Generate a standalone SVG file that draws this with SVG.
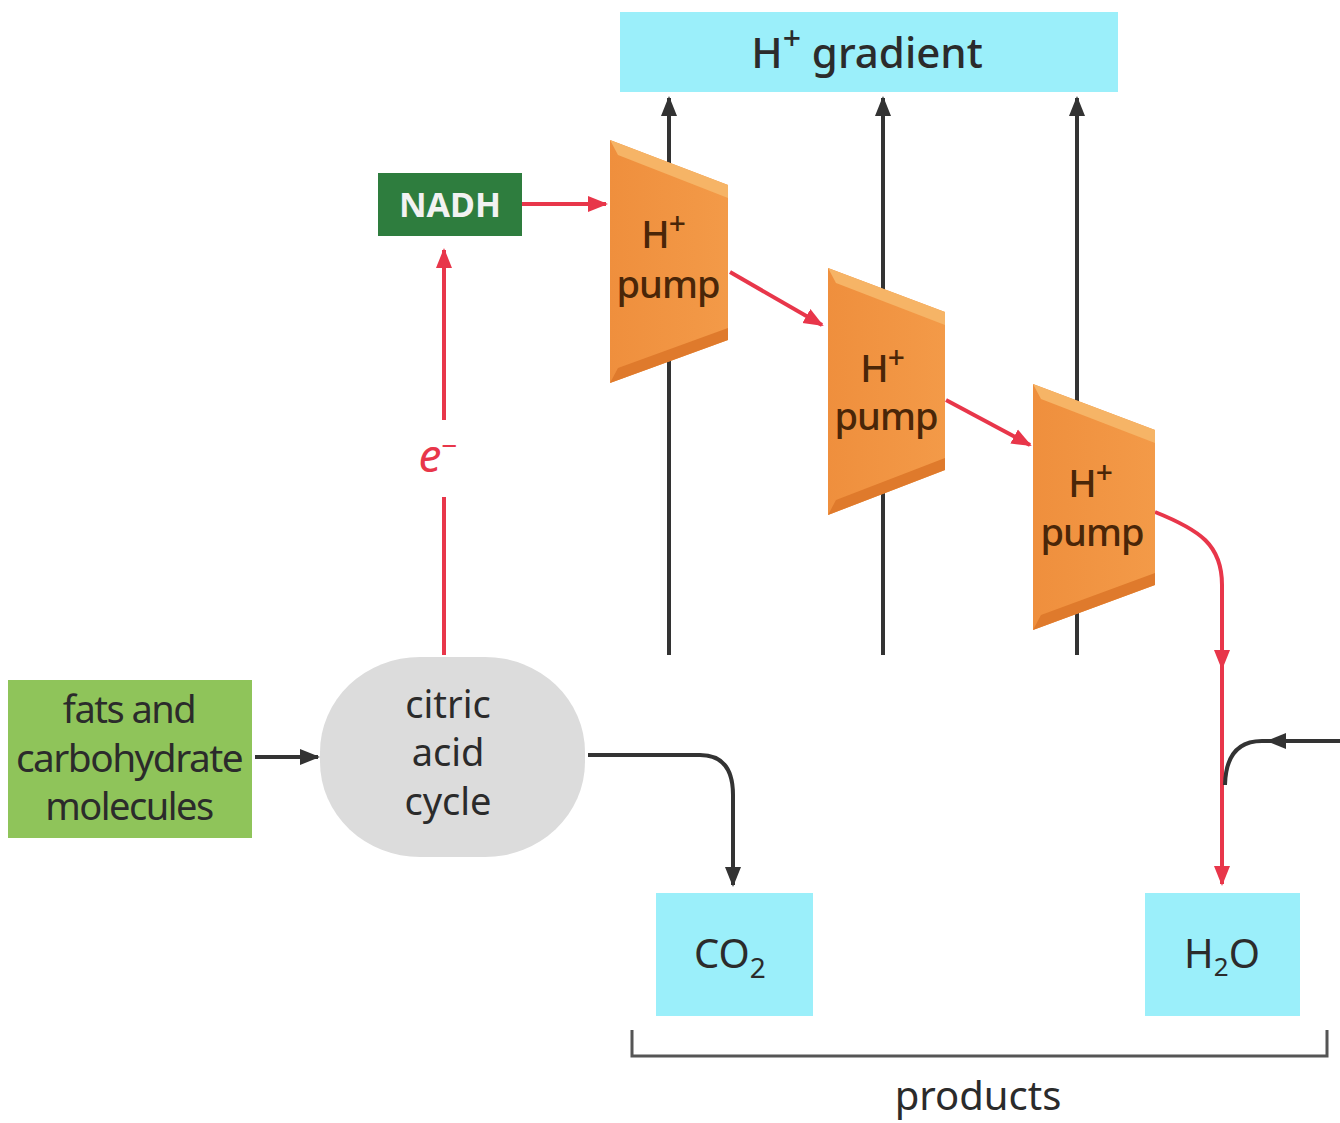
<svg xmlns="http://www.w3.org/2000/svg" width="1340" height="1123" viewBox="0 0 1340 1123">
<defs>
<style>
.lbl{font-family:"Noto Sans","Open Sans","Liberation Sans",sans-serif;fill:#2b2b2b;text-anchor:middle}
.pump{font-family:"Noto Sans","Open Sans","Liberation Sans",sans-serif;fill:#4a2608;text-anchor:middle;font-size:38px;letter-spacing:-1px;font-weight:500}
.blk{stroke:#333;stroke-width:4;fill:none}
.red{stroke:#e8364a;stroke-width:4;fill:none}
.cyan{fill:#9beffa}
</style>
<marker id="ab" viewBox="0 0 10 10" refX="9" refY="5" markerWidth="5" markerHeight="5" orient="auto" markerUnits="strokeWidth"><path d="M0,1 L10,5 L0,9 z" fill="#333"/></marker>
<marker id="ar" viewBox="0 0 10 10" refX="9" refY="5" markerWidth="5" markerHeight="5" orient="auto" markerUnits="strokeWidth"><path d="M0,1 L10,5 L0,9 z" fill="#e8364a"/></marker>
<linearGradient id="pg" x1="0" y1="0" x2="1" y2="0"><stop offset="0" stop-color="#ef8f3d"/><stop offset="1" stop-color="#f39a48"/></linearGradient>
</defs>

<g id="gradient"><rect class="cyan" x="620" y="12" width="498" height="80"/><text class="lbl" x="867" y="68" font-size="42" font-weight="500">H<tspan dy="-18" font-size="32">+</tspan><tspan dy="18"> gradient</tspan></text></g>

<g id="connectors">
<line class="blk" x1="669" y1="655" x2="669" y2="98" marker-end="url(#ab)"/>
<line class="blk" x1="883" y1="655" x2="883" y2="98" marker-end="url(#ab)"/>
<line class="blk" x1="1077" y1="655" x2="1077" y2="98" marker-end="url(#ab)"/>
<line class="red" x1="522" y1="204" x2="606" y2="204" marker-end="url(#ar)"/>
<line class="red" x1="444" y1="655" x2="444" y2="497"/>
<line class="red" x1="444" y1="420" x2="444" y2="250" marker-end="url(#ar)"/>
<line class="red" x1="730" y1="272" x2="822" y2="325" marker-end="url(#ar)"/>
<line class="red" x1="946" y1="400" x2="1030" y2="445" marker-end="url(#ar)"/>
<path class="red" d="M1155,512 C1200,530 1222,545 1222,585 L1222,662"/>
<path class="red" d="M1222,650 L1222,884" marker-end="url(#ar)"/>
<path class="red" d="M1222,640 L1222,668" marker-end="url(#ar)"/>
<line class="blk" x1="255" y1="757" x2="318" y2="757" marker-end="url(#ab)"/>
<path class="blk" d="M588,755 L700,755 Q733,755 733,795 L733,885" marker-end="url(#ab)"/>
<path class="blk" d="M1340,741 L1262,741 Q1226,741 1225,785"/>
<path class="blk" d="M1290,741 L1268,741" marker-end="url(#ab)"/>
<path d="M632,1030 L632,1056 L1327,1056 L1327,1030" stroke="#555" stroke-width="3" fill="none"/>
</g>

<g id="nadh"><rect x="378" y="173" width="144" height="63" fill="#2e7d3e"/><text x="450" y="217" font-family="'Noto Sans','Liberation Sans',sans-serif" font-weight="bold" font-size="34" fill="#f2f2f2" text-anchor="middle">NADH</text></g>

<g id="e-label"><text x="438" y="472" font-family="'Noto Sans','Liberation Sans',sans-serif" font-style="italic" font-size="46" fill="#e8364a" text-anchor="middle">e<tspan dy="-16" font-size="28" font-style="normal">−</tspan></text></g>

<g id="pump1">
<polygon points="610,140 728,185 728,340 610,383" fill="url(#pg)"/>
<polygon points="610,140 728,185 728,198 618,155" fill="#f6b466"/>
<polygon points="610,383 728,340 728,328 618,368" fill="#df7a2c"/>
<text class="pump" x="663" y="248">H<tspan dy="-14" font-size="30">+</tspan></text>
<text class="pump" x="668" y="298">pump</text>
</g>
<g id="pump2">
<polygon points="828,268 945,312 945,470 828,515" fill="url(#pg)"/>
<polygon points="828,268 945,312 945,325 836,283" fill="#f6b466"/>
<polygon points="828,515 945,470 945,458 836,500" fill="#df7a2c"/>
<text class="pump" x="882" y="382">H<tspan dy="-14" font-size="30">+</tspan></text>
<text class="pump" x="886" y="430">pump</text>
</g>
<g id="pump3">
<polygon points="1033,384 1155,430 1155,585 1033,630" fill="url(#pg)"/>
<polygon points="1033,384 1155,430 1155,443 1041,399" fill="#f6b466"/>
<polygon points="1033,630 1155,585 1155,573 1041,615" fill="#df7a2c"/>
<text class="pump" x="1090" y="497">H<tspan dy="-14" font-size="30">+</tspan></text>
<text class="pump" x="1092" y="546">pump</text>
</g>

<g id="fats"><rect x="8" y="680" width="244" height="158" fill="#8fc45a"/>
<text class="lbl" font-size="38" letter-spacing="-1.5" fill="#222"><tspan x="129" y="723">fats and</tspan><tspan x="129" y="772" textLength="226" lengthAdjust="spacingAndGlyphs">carbohydrate</tspan><tspan x="129" y="820">molecules</tspan></text></g>

<g id="citric"><rect x="320" y="657" width="265" height="200" rx="100" ry="95" fill="#dcdcdc"/>
<text class="lbl" font-size="38" fill="#333"><tspan x="448" y="718">citric</tspan><tspan x="448" y="766">acid</tspan><tspan x="448" y="815">cycle</tspan></text></g>

<g id="co2"><rect class="cyan" x="656" y="893" width="157" height="123"/><text class="lbl" x="730" y="968" font-size="40" fill="#1f3f55">CO<tspan dy="10" font-size="28">2</tspan></text></g>
<g id="h2o"><rect class="cyan" x="1145" y="893" width="155" height="123"/><text class="lbl" x="1222" y="968" font-size="40" fill="#1f3f55">H<tspan dy="8" font-size="26">2</tspan><tspan dy="-8">O</tspan></text></g>

<g id="products"><text class="lbl" x="978" y="1110" font-size="40">products</text></g>
</svg>
